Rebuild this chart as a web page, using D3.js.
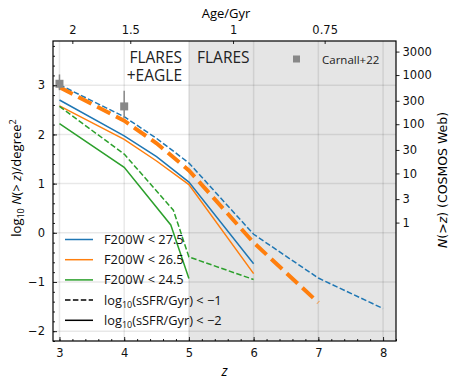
<!DOCTYPE html>
<html>
<head>
<meta charset="utf-8">
<script src="https://cdn.jsdelivr.net/npm/d3@7"></script>
<style>
  body { margin: 0; background: #fff; }
  text { font-family: "Open Sans", "DejaVu Sans", sans-serif; }
</style>
</head>
<body>
<svg width="460" height="386"></svg>
<script>
// cumulative counts, log10 N(>z) per degree^2
var z275 = [3, 4, 4.5, 5, 6, 7, 8];
var dash275 = [3.01, 2.36, 1.92, 1.42, -0.03, -0.92, -1.54];
var z265 = [3, 4, 4.5, 5, 6, 7];
var dash265 = [2.96, 2.28, 1.82, 1.27, -0.2, -1.42];
var zSolid = [3, 4, 4.5, 5, 6];
var solid275 = [2.70, 1.97, 1.55, 1.03, -0.63];
var solid265 = [2.58, 1.90, 1.46, 0.98, -0.83];
var zGreenSolid = [3, 4, 4.72, 5];
var solid245 = [2.22, 1.33, 0.16, -0.93];
var zGreenDash = [3, 4, 4.76, 5, 6];
var dash245 = [2.57, 1.60, 0.46, -0.49, -0.95];

// Carnall+22 points
var carnallZ = [3.0, 4.0];
var carnallY = [3.03, 2.57];
var carnallLo = [2.90, 2.33];
var carnallHi = [3.22, 2.89];

var xTicks = [3, 4, 5, 6, 7, 8];
var yTicks = [-2, -1, 0, 1, 2, 3];
var ageTicks = [2, 1.5, 1, 0.75];
var cosmosTicks = [1, 3, 10, 30, 100, 300, 1000, 3000];
var cosmosArea = 0.62; // degree^2

var blue = "#1f77b4", orange = "#ff7f0e", green = "#2ca02c", grey = "#888888";

var svg = d3.select("svg"),
    pL = 53, pR = 396, pT = 41, pB = 341;

var x = d3.scaleLinear().domain([2.9, 8.2]).range([pL, pR]);
var y = d3.scaleLinear().domain([-2.2, 3.9]).range([pB, pT]);

// age (Gyr) -> redshift, flat LCDM
var H0inv = 977.79 / 67.7, OmL = 0.69, OmM = 0.31;
var A = 2 * H0inv / (3 * Math.sqrt(OmL)), B = Math.sqrt(OmL / OmM);
function zOfAge(t) { return Math.pow(Math.sinh(t / A) / B, -2 / 3) - 1; }

// shaded FLARES region
svg.append("rect")
  .attr("x", x(5)).attr("y", pT)
  .attr("width", pR - x(5)).attr("height", pB - pT)
  .attr("fill", "#e5e5e5");

// grid
var grid = svg.append("g").attr("stroke", "rgba(0,0,0,0.09)").attr("stroke-width", 1.5);
grid.selectAll(".gx").data(xTicks).enter().append("line")
  .attr("x1", function(d) { return x(d); }).attr("x2", function(d) { return x(d); })
  .attr("y1", pT).attr("y2", pB);
grid.selectAll(".gy").data(yTicks).enter().append("line")
  .attr("y1", function(d) { return y(d); }).attr("y2", function(d) { return y(d); })
  .attr("x1", pL).attr("x2", pR);

// text labels in the plot
svg.append("text").attr("x", 182).attr("y", 63).attr("text-anchor", "end")
  .attr("font-size", 15.5).attr("fill", "#222").text("FLARES");
svg.append("text").attr("x", 182).attr("y", 81).attr("text-anchor", "end")
  .attr("font-size", 15.5).attr("fill", "#222").text("+EAGLE");
svg.append("text").attr("x", 197).attr("y", 63)
  .attr("font-size", 15.5).attr("fill", "#222").text("FLARES");

// lines
var line = d3.line().x(function(d) { return x(d[0]); }).y(function(d) { return y(d[1]); });
function addLine(zs, vs, color, w, dashed) {
  var pts = zs.map(function(z, i) { return [z, vs[i]]; });
  svg.append("path").datum(pts)
    .attr("d", line)
    .attr("fill", "none")
    .attr("stroke", color)
    .attr("stroke-width", w)
    .attr("stroke-dasharray", dashed ? (3.7 * w) + "," + (1.6 * w) : null);
}
addLine(zSolid, solid275, blue, 1.5, false);
addLine(zSolid, solid265, orange, 1.5, false);
addLine(zGreenSolid, solid245, green, 1.5, false);
addLine(zGreenDash, dash245, green, 1.5, true);
addLine(z275, dash275, blue, 1.5, true);
addLine(z265, dash265, orange, 4, true);

// Carnall+22 points
var pts = svg.append("g");
carnallZ.forEach(function(z, i) {
  pts.append("line").attr("x1", x(z)).attr("x2", x(z))
    .attr("y1", y(carnallLo[i])).attr("y2", y(carnallHi[i]))
    .attr("stroke", grey).attr("stroke-width", 1.5);
  pts.append("rect").attr("x", x(z) - 4).attr("y", y(carnallY[i]) - 4)
    .attr("width", 8).attr("height", 8).attr("fill", grey);
});
svg.append("rect").attr("x", 293).attr("y", 55.5).attr("width", 7).attr("height", 7).attr("fill", grey);
svg.append("text").attr("x", 322).attr("y", 64).attr("font-size", 11.5).attr("fill", "#222").text("Carnall+22");

// axes
var xAxis = d3.axisBottom(x).tickValues(xTicks).tickSizeInner(-4).tickSizeOuter(0).tickPadding(8).tickFormat(d3.format("d"));
var xMinor = d3.axisBottom(x).tickValues(d3.range(3, 8.21, 0.2)).tickSizeInner(-2).tickSizeOuter(0).tickFormat("");
var yAxis = d3.axisLeft(y).tickValues(yTicks).tickSizeInner(-4).tickSizeOuter(0).tickPadding(8)
  .tickFormat(function(d) { return d < 0 ? "\u2212" + Math.abs(d) : d; });
var yMinor = d3.axisLeft(y).tickValues(d3.range(-2.2, 3.91, 0.2)).tickSizeInner(-2).tickSizeOuter(0).tickFormat("");

svg.append("g").attr("transform", "translate(0," + pB + ")").call(xMinor);
svg.append("g").attr("transform", "translate(0," + pB + ")").call(xAxis);
svg.append("g").attr("transform", "translate(" + pL + ",0)").call(yMinor);
svg.append("g").attr("transform", "translate(" + pL + ",0)").call(yAxis);

var topAxis = d3.axisTop(x).tickValues(ageTicks.map(zOfAge)).tickSizeInner(-3).tickSizeOuter(0).tickPadding(7)
  .tickFormat(function(d, i) { return ageTicks[i]; });
svg.append("g").attr("transform", "translate(0," + pT + ")").call(topAxis);

var rightAxis = d3.axisRight(y).tickValues(cosmosTicks.map(function(n) { return Math.log10(n / cosmosArea); }))
  .tickSize(3.5).tickSizeOuter(0).tickPadding(3)
  .tickFormat(function(d, i) { return cosmosTicks[i]; });
svg.append("g").attr("transform", "translate(" + pR + ",0)").call(rightAxis);

svg.selectAll(".tick text").attr("font-size", 11.5).attr("fill", "#111")
  .style("font-family", "'DejaVu Sans', sans-serif");
svg.selectAll(".domain").attr("stroke", "none");
svg.selectAll(".tick line").attr("stroke", "#222");

// frame
svg.append("rect").attr("x", pL).attr("y", pT).attr("width", pR - pL).attr("height", pB - pT)
  .attr("fill", "none").attr("stroke", "#000").attr("stroke-width", 1.2);

// axis labels
svg.append("text").attr("x", (pL + pR) / 2).attr("y", 376).attr("text-anchor", "middle")
  .attr("font-size", 14).attr("font-style", "italic").text("z");
svg.append("text").attr("x", 226).attr("y", 18).attr("text-anchor", "middle")
  .attr("font-size", 13).text("Age/Gyr");

var yl = svg.append("text").attr("transform", "translate(21,178) rotate(-90)")
  .attr("text-anchor", "middle").attr("font-size", 13);
yl.append("tspan").text("log");
yl.append("tspan").attr("font-size", 9).attr("dy", 3).text("10");
yl.append("tspan").attr("dy", -3).text(" ");
yl.append("tspan").attr("font-style", "italic").text("N");
yl.append("tspan").text("(> ");
yl.append("tspan").attr("font-style", "italic").text("z");
yl.append("tspan").text(")/degree");
yl.append("tspan").attr("font-size", 9).attr("dy", -5).text("2");

svg.append("text").attr("transform", "translate(447,180) rotate(-90)")
  .attr("text-anchor", "middle").attr("font-size", 12.5)
  .style("font-family", "'DejaVu Sans', sans-serif")
  .html("<tspan font-style='italic'>N</tspan>(&gt;<tspan font-style='italic'>z</tspan>) (COSMOS Web)");

// legend
var legendItems = [
  { color: blue, dashed: false, label: "F200W < 27.5" },
  { color: orange, dashed: false, label: "F200W < 26.5" },
  { color: green, dashed: false, label: "F200W < 24.5" },
  { color: "#000", dashed: true, label: "sSFR1" },
  { color: "#000", dashed: false, label: "sSFR2" }
];
var lg = svg.append("g");
legendItems.forEach(function(d, i) {
  var ly = 239.5 + i * 20.2;
  lg.append("line").attr("x1", 65).attr("x2", 93).attr("y1", ly).attr("y2", ly)
    .attr("stroke", d.color).attr("stroke-width", 1.5)
    .attr("stroke-dasharray", d.dashed ? "5.5,2.4" : null);
  var t = lg.append("text").attr("x", 104).attr("y", ly + 4.5).attr("font-size", 12.8).attr("fill", "#111");
  if (d.label.indexOf("sSFR") === 0) {
    t.append("tspan").text("log");
    t.append("tspan").attr("font-size", 9).attr("dy", 3).text("10");
    t.append("tspan").attr("dy", -3).text("(sSFR/Gyr) < \u2212" + d.label.slice(4));
  } else {
    t.text(d.label);
  }
});
</script>
</body>
</html>
